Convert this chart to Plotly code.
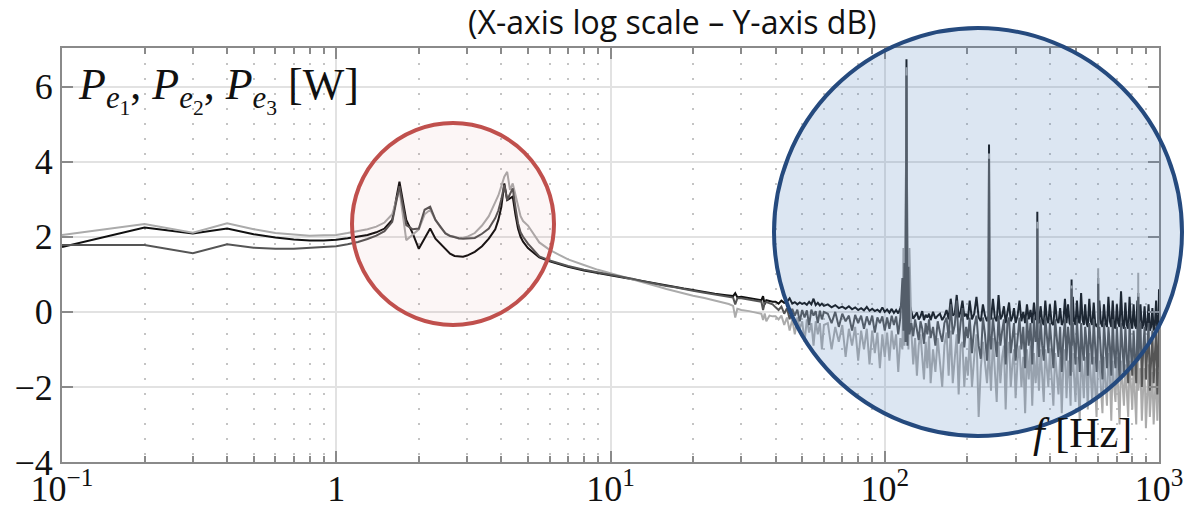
import plotly.graph_objects as go

# ---------------- data ----------------
freq_low = [0.1, 0.2, 0.3, 0.4, 0.5, 0.6, 0.7, 0.8, 0.9, 1.0,
            1.1, 1.2, 1.3, 1.4, 1.5, 1.6, 1.7, 1.8, 1.9, 2.0,
            2.1, 2.2, 2.3, 2.4, 2.5, 2.6, 2.7, 2.8, 2.9, 3.0,
            3.2, 3.4, 3.6, 3.8, 3.9, 4.0, 4.1, 4.2, 4.3, 4.4,
            4.5, 4.6, 4.7, 4.8, 5.0, 5.5, 6.0, 6.5, 7.0, 8.0,
            9.0, 10, 11, 12, 13, 14, 15, 16, 17, 18,
            18.5, 19, 20, 22, 24, 26, 27, 28, 28.5, 29,
            30, 32, 34, 35.5, 36, 36.5, 37, 38, 39]

pe1_low = [1.73, 2.25, 2.09, 2.22, 2.07, 1.98, 1.93, 1.90, 1.90, 1.92,
           1.96, 2.00, 2.05, 2.12, 2.22, 2.45, 3.47, 2.45, 2.09, 1.68,
           1.95, 2.22, 1.95, 1.82, 1.68, 1.55, 1.49, 1.47, 1.47, 1.50,
           1.60, 1.75, 1.95, 2.20, 2.45, 2.80, 3.42, 2.98, 3.02, 3.07,
           2.60, 2.22, 2.00, 1.87, 1.70, 1.45, 1.35, 1.27, 1.20, 1.10,
           1.03, 0.98, 0.92, 0.87, 0.82, 0.77, 0.73, 0.70, 0.67, 0.63,
           0.62, 0.61, 0.58, 0.53, 0.48, 0.45, 0.44, 0.42, 0.50, 0.39,
           0.40, 0.36, 0.33, 0.31, 0.42, 0.20, 0.31, 0.28, 0.27]

pe2_low = [1.78, 1.78, 1.56, 1.80, 1.71, 1.68, 1.68, 1.70, 1.72, 1.75,
           1.80, 1.86, 1.94, 2.03, 2.15, 2.40, 3.35, 2.31, 2.20, 2.22,
           2.72, 2.80, 2.45, 2.25, 2.09, 2.02, 1.98, 1.96, 1.95, 1.95,
           1.97, 2.08, 2.22, 2.50, 2.70, 3.00, 3.38, 2.98, 3.15, 3.29,
           2.80, 2.36, 2.12, 2.00, 1.82, 1.48, 1.37, 1.29, 1.22, 1.12,
           1.05, 1.00, 0.94, 0.88, 0.82, 0.77, 0.72, 0.69, 0.66, 0.62,
           0.60, 0.59, 0.56, 0.51, 0.46, 0.42, 0.40, 0.38, 0.20, 0.36,
           0.36, 0.32, 0.29, 0.27, 0.05, 0.24, 0.26, 0.23, 0.20]

pe3_low = [2.05, 2.34, 2.11, 2.36, 2.20, 2.10, 2.06, 2.03, 2.04, 2.05,
           2.10, 2.15, 2.20, 2.27, 2.38, 2.60, 3.25, 1.91, 2.05, 2.20,
           2.60, 2.72, 2.45, 2.25, 2.10, 2.03, 2.00, 1.95, 1.97, 2.00,
           2.10, 2.30, 2.55, 2.90, 3.10, 3.35, 3.60, 3.73, 3.25, 3.42,
           3.10, 2.80, 2.55, 2.42, 2.30, 1.85, 1.65, 1.52, 1.40, 1.25,
           1.12, 1.03, 0.95, 0.87, 0.80, 0.73, 0.67, 0.61, 0.56, 0.51,
           0.49, 0.47, 0.43, 0.37, 0.31, 0.25, 0.21, 0.16, -0.15, 0.08,
           0.05, 0.02, -0.02, -0.05, -0.22, -0.04, -0.25, -0.10, -0.12]

freq_high = [40, 41, 42, 43, 44, 45, 46, 47, 48, 49, 50, 51, 52, 53, 54, 55, 56, 57, 58, 59, 60,
             62, 64, 66, 68, 70, 72, 74, 76, 78, 80, 82, 84, 86, 88, 90, 92, 94, 96, 98, 100,
             102, 104, 106, 108, 110, 112, 114, 116, 117, 118, 119, 120, 121, 122, 123,
             125, 127, 129, 131, 133, 135, 137, 139, 141, 143, 145, 147, 150, 153, 156,
             159, 162, 165, 168, 171, 174, 177, 180, 183, 186, 189, 192, 195, 198, 201,
             204, 208, 212, 216, 220, 224, 228, 232, 236, 239,
             240, 241, 244, 248, 252, 256, 260, 264, 268, 272,
             276, 280, 284, 288, 292, 296, 300, 305, 310, 315,
             320, 325, 330, 335, 340, 345, 350, 355, 359, 360,
             361, 365, 370, 375, 380, 385, 390, 395,
             400, 406, 412, 418, 424, 430, 436, 442, 448, 454,
             460, 466, 472, 476, 479, 480, 481, 485, 490, 496,
             502, 508, 514, 520, 526, 532, 538, 544, 550, 557,
             564, 571, 578, 585, 592, 599, 600, 601, 606, 614,
             622, 630, 638, 646, 654, 662, 670, 678, 686, 694,
             702, 710, 718, 727, 736, 745, 754, 763, 772, 781,
             790, 799, 808, 817, 826, 834, 839, 840, 841, 846,
             856, 866, 876, 886, 896, 906, 916, 926, 936, 946,
             956, 966, 976, 986, 996, 1000]

pe1_high = [0.27, 0.22, 0.30, 0.24, 0.27, 0.36, 0.22, 0.26, 0.20, 0.25, 0.21, 0.24, 0.19, 0.27, 0.20, 0.35, 0.18, 0.24, 0.17, 0.22, 0.16,
            0.20, 0.12, 0.18, 0.10, 0.14, 0.08, 0.15, 0.07, 0.12, 0.05, 0.10, 0.04, 0.13, 0.03, 0.08, 0.02, 0.06, 0.00, 0.12, 0.00,
            0.06, -0.02, 0.08, -0.03, 0.05, -0.04, 0.10, 0.30, 0.20, 0.50, 0.40, 6.73, 0.50, 0.30, 0.20,
            -0.05, -0.18, -0.10, -0.02, -0.20, -0.12, 0.02, -0.22, -0.08, -0.15, -0.05, -0.22, 0.00, -0.18, -0.10,
            -0.05, -0.22, -0.12, 0.05, -0.20, 0.35, -0.10, -0.05, 0.45, -0.15, 0.00, 0.30, -0.12, -0.05, -0.20,
            0.30, -0.20, -0.05, 0.40, -0.15, -0.25, 0.20, -0.10, -0.25, -0.10,
            4.46, -0.15, -0.20, 0.35, -0.15, -0.25, 0.45, -0.20, -0.10, 0.15,
            -0.30, 0.05, 0.25, -0.25, -0.15, 0.10, -0.30, -0.10, 0.30, -0.25,
            0.00, -0.30, 0.20, -0.20, 0.05, -0.30, 0.25, -0.20, -0.20, 2.67,
            -0.25, -0.30, 0.15, -0.25, -0.35, 0.30, -0.20, -0.30,
            0.20, -0.30, -0.35, 0.30, -0.20, -0.30, 0.10, -0.35, -0.25, 0.35,
            -0.30, 0.20, -0.30, -0.35, -0.30, 0.86, -0.30, 0.40, -0.25, -0.35,
            0.30, -0.25, -0.30, 0.50, -0.20, -0.35, 0.20, -0.30, -0.40, 0.35,
            -0.25, -0.35, 0.25, -0.30, -0.40, -0.30, 0.90, -0.35, 0.30, -0.30,
            -0.40, 0.20, -0.30, -0.40, 0.40, -0.25, -0.40, 0.30, -0.35, -0.45,
            0.20, -0.30, -0.40, 0.55, -0.30, -0.45, 0.25, -0.35, -0.45, 0.40,
            -0.30, -0.45, 0.20, -0.35, -0.45, 0.30, -0.40, 0.50, -0.40, -0.30,
            0.20, -0.45, -0.35, 0.15, -0.50, -0.35, 0.20, -0.50, -0.40, 0.10,
            -0.50, -0.35, 0.30, -0.50, -0.40, 0.60]

pe2_high = [0.12, 0.05, 0.14, -0.05, 0.10, -0.20, 0.08, -0.10, 0.06, -0.25, 0.05, -0.15, 0.04, -0.35, 0.06, -0.10, 0.02, -0.30, 0.03, -0.20, 0.00,
            -0.05, -0.30, 0.00, -0.40, -0.05, -0.25, -0.10, -0.50, -0.08, -0.30, -0.10, -0.45, -0.12, -0.35, -0.10, -0.55, -0.15, -0.30, -0.12, -0.50,
            -0.15, -0.45, -0.10, -0.35, -0.12, -0.60, -0.15, 0.90, -0.50, 1.30, -0.80, 6.30, -0.90, 1.20, -0.60,
            -0.30, -0.65, -0.20, -0.50, -0.75, -0.25, -0.45, -0.85, -0.30, -0.60, -0.20, -0.70, -0.40, -0.90, -0.25,
            -0.55, -0.80, -0.30, -0.15, -0.70, 0.20, -0.60, -0.35, 0.30, -0.85, -0.30, 0.10, -0.95, -0.40, -0.70,
            -0.15, -1.10, -0.40, -0.10, -0.90, -1.25, -0.15, -0.60, -1.30, -0.50,
            4.08, -0.60, -1.00, -0.15, -0.70, -1.20, -0.10, -0.90, -0.50, -0.20,
            -1.40, -0.30, -0.15, -1.10, -0.70, -0.30, -1.30, -0.60, -0.15, -1.00,
            -0.40, -1.50, -0.15, -0.90, -0.30, -1.40, -0.15, -0.80, -0.60, 2.22,
            -0.70, -1.20, -0.20, -0.90, -1.30, -0.15, -0.70, -1.10,
            -0.30, -1.00, -1.50, -0.20, -0.80, -1.20, -0.40, -1.60, -0.70, -0.20,
            -1.30, -0.40, -0.90, -1.70, -0.80, 0.62, -0.90, -0.30, -0.70, -1.40,
            -0.20, -0.90, -1.60, -0.30, -1.00, -1.30, -0.40, -0.80, -1.70, -0.30,
            -0.90, -1.40, -0.20, -1.00, -1.60, -0.60, 0.75, -0.70, -0.40, -1.10,
            -1.80, -0.30, -1.00, -1.50, -0.40, -0.90, -1.70, -0.20, -1.10, -1.50,
            -0.40, -1.10, -1.80, -0.30, -1.00, -1.60, -0.40, -1.20, -1.90, -0.30,
            -1.10, -1.70, -0.50, -1.20, -1.90, -0.40, -1.20, 0.40, -1.30, -0.90,
            -0.30, -2.00, -1.00, -0.40, -1.80, -1.10, -0.30, -2.10, -1.20, -0.50,
            -1.90, -1.00, -0.40, -2.20, -1.20, -0.30]

pe3_high = [-0.12, -0.20, -0.10, -0.35, -0.15, -0.50, -0.20, -0.60, -0.15, -0.45, -0.25, -0.80, -0.20, -0.55, -0.30, -0.90, -0.25, -0.60, -0.30, -1.00, -0.35,
            -0.30, -1.00, -0.40, -0.80, -0.35, -1.20, -0.45, -0.90, -0.40, -1.30, -0.50, -1.00, -0.45, -1.40, -0.50, -1.10, -0.55, -1.50, -0.60, -1.20,
            -0.55, -1.30, -0.50, -1.00, -0.60, -1.60, -0.70, -1.00, 1.70, -0.90, 1.00, 6.52, 0.80, -1.00, 1.70,
            -0.50, -1.40, -0.70, -1.70, -0.90, -0.60, -1.30, -1.80, -0.80, -1.50, -0.65, -1.90, -1.00, -1.60, -0.70,
            -1.40, -2.00, -0.90, -0.55, -1.70, -0.50, -1.90, -1.10, -0.60, -2.20, -0.90, -0.80, -2.00, -1.20, -1.70,
            -0.70, -2.00, -1.20, -0.60, -2.80, -1.50, -0.80, -1.30, -1.90, -1.20,
            4.22, -1.30, -2.10, -0.70, -1.60, -2.40, -0.80, -1.90, -1.20, -0.90,
            -2.60, -1.10, -0.80, -2.00, -1.40, -1.00, -2.30, -1.30, -0.90, -2.00,
            -1.20, -2.70, -1.00, -1.80, -0.90, -2.50, -1.10, -1.90, -1.30, 2.40,
            -1.40, -2.10, -1.00, -1.70, -2.40, -1.00, -1.60, -2.00,
            -1.00, -1.80, -2.50, -1.10, -1.60, -2.20, -1.20, -2.70, -1.40, -1.00,
            -2.30, -1.30, -1.80, -2.50, -1.50, 0.70, -1.60, -1.10, -1.70, -2.40,
            -1.20, -2.00, -2.90, -1.00, -1.70, -2.30, -1.20, -1.60, -2.60, -1.10,
            -1.70, -2.40, -1.20, -1.90, -2.80, -1.30, 1.16, -1.40, -1.30, -2.00,
            -2.70, -1.20, -1.90, -2.50, -1.10, -1.70, -2.90, -1.30, -2.00, -2.40,
            -1.20, -2.10, -3.00, -1.30, -1.90, -2.50, -1.40, -2.10, -2.80, -1.30,
            -2.00, -2.60, -1.40, -2.20, -3.00, -1.50, -2.00, 1.04, -2.10, -1.80,
            -1.50, -2.90, -2.00, -1.50, -3.10, -2.10, -1.40, -2.80, -2.00, -1.60,
            -3.00, -2.00, -1.50, -2.90, -2.20, -1.60]

x_tick_vals = [0.1, 1, 10, 100, 1000]
x_tick_text = ["10<sup>−1</sup>", "1", "10<sup>1</sup>", "10<sup>2</sup>", "10<sup>3</sup>"]
x_minor_vals = [m * d for d in (0.1, 1, 10, 100) for m in range(2, 10)]
y_tick_vals = [-4, -2, 0, 2, 4, 6]
y_tick_text = ["−4", "−2", "0", "2", "4", "6"]

title_text = "(X-axis log scale – Y-axis dB)"
y_label = ("<i>P</i><sub><i>e</i><sub>1</sub></sub>, "
           "<i>P</i><sub><i>e</i><sub>2</sub></sub>, "
           "<i>P</i><sub><i>e</i><sub>3</sub></sub> [W]")
x_label = "<i>f</i> [Hz]"

# ---------------- assemble ----------------
freq = freq_low + freq_high
pe1 = pe1_low + pe1_high
pe2 = pe2_low + pe2_high
pe3 = pe3_low + pe3_high
assert len(freq) == len(pe1) == len(pe2) == len(pe3), (len(freq), len(pe1), len(pe2), len(pe3))

fig = go.Figure()
# drawing order: black, light grey, dark grey
fig.add_trace(go.Scatter(x=freq, y=pe1, mode="lines", line=dict(color="#111111", width=2), name="Pe1"))
fig.add_trace(go.Scatter(x=freq, y=pe3, mode="lines", line=dict(color="#ababab", width=2), name="Pe3"))
fig.add_trace(go.Scatter(x=freq, y=pe2, mode="lines", line=dict(color="#555555", width=2), name="Pe2"))

W, H = 1196, 506
ML, MR, MT, MB = 62, 37, 48, 44
PW, PH = W - ML - MR, H - MT - MB


def px_x(p):
    return (p - ML) / PW


def px_y(p):
    return (H - MB - p) / PH


axis_common = dict(
    showline=True, linecolor="#8a8a8a", linewidth=2, mirror="allticks",
    ticks="inside", ticklen=11, tickwidth=1.5, tickcolor="#8a8a8a",
    showgrid=True, gridcolor="#e2e2e2", gridwidth=1.5, zeroline=False,
    automargin=False,
    tickfont=dict(family="Liberation Serif", size=36, color="#111111"),
)

fig.update_layout(
    width=W, height=H, autosize=False,
    margin=dict(l=ML, r=MR, t=MT, b=MB, pad=0, autoexpand=False),
    paper_bgcolor="white", plot_bgcolor="white",
    showlegend=False,
    xaxis=dict(type="log", range=[-1, 3], tickmode="array",
               tickvals=x_tick_vals, ticktext=x_tick_text, ticklabelstandoff=-6,
               minor=dict(tickmode="array", tickvals=x_minor_vals, ticks="inside", ticklen=6,
                          tickcolor="#8a8a8a", tickwidth=1.5, showgrid=True,
                          gridcolor="#c4c4c4", gridwidth=1.5, griddash="2px,13px"),
               **axis_common),
    yaxis=dict(range=[-4, 7.03], tickmode="array",
               tickvals=y_tick_vals, ticktext=y_tick_text, **axis_common),
)

fig.add_annotation(text=title_text, xref="paper", yref="paper",
                   x=px_x(672), y=px_y(22), xanchor="center", yanchor="middle",
                   showarrow=False, font=dict(family="Open Sans", size=32, color="#111111"))
fig.add_annotation(text=y_label, xref="paper", yref="paper",
                   x=px_x(76), y=px_y(58), xanchor="left", yanchor="top",
                   showarrow=False, font=dict(family="Liberation Serif", size=44, color="#111111"))
fig.add_annotation(text=x_label, xref="paper", yref="paper",
                   x=px_x(1134), y=px_y(458), xanchor="right", yanchor="bottom",
                   showarrow=False, font=dict(family="Liberation Serif", size=42, color="#111111"))

# highlight circles
fig.add_shape(type="circle", xref="paper", yref="paper",
              x0=px_x(352), x1=px_x(554), y0=px_y(325), y1=px_y(123),
              line=dict(color="#c0504d", width=4), fillcolor="rgba(192,80,77,0.05)", layer="above")
fig.add_shape(type="circle", xref="paper", yref="paper",
              x0=px_x(774), x1=px_x(1182), y0=px_y(436), y1=px_y(28),
              line=dict(color="#254a7e", width=4), fillcolor="rgba(79,129,189,0.2)", layer="above")

fig.write_html("out.html", config={"displayModeBar": False},
               post_script="document.body.style.margin='0';")
